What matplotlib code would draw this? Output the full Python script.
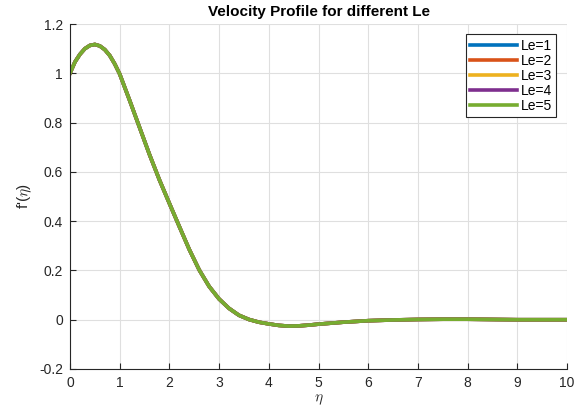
import matplotlib
matplotlib.use("Agg")
import matplotlib.pyplot as plt

eta = [0, 0.1, 0.2, 0.3, 0.4, 0.5, 0.6, 0.7, 0.8, 0.9, 1.0, 1.2, 1.4, 1.6, 1.8,
       2.0, 2.2, 2.4, 2.6, 2.8, 3.0, 3.2, 3.4, 3.6, 3.8, 4.0, 4.2, 4.4, 4.6, 4.8,
       5.0, 5.5, 6.0, 6.5, 7.0, 7.5, 8.0, 8.5, 9.0, 9.5, 10.0]
fp = [1.0, 1.046, 1.077, 1.100, 1.113, 1.117, 1.111, 1.096, 1.072, 1.038, 0.997,
      0.890, 0.780, 0.670, 0.567, 0.472, 0.378, 0.285, 0.202, 0.135, 0.084, 0.046,
      0.018, 0.001, -0.010, -0.017, -0.023, -0.026, -0.025, -0.022, -0.018,
      -0.010, -0.004, -0.001, 0.001, 0.002, 0.002, 0.001, 0.0, 0.0, 0.0]
le_values = [1, 2, 3, 4, 5]
colors = ["#0072BD", "#D95319", "#EDB120", "#7E2F8E", "#77AC30"]
xticks = list(range(0, 11))
yticks = [-0.2, 0, 0.2, 0.4, 0.6, 0.8, 1.0, 1.2]
ytick_labels = ["-0.2", "0", "0.2", "0.4", "0.6", "0.8", "1", "1.2"]

plt.rcParams['font.family'] = ['Liberation Sans', 'DejaVu Sans']
plt.rcParams['mathtext.fontset'] = 'cm'

fig = plt.figure(figsize=(5.84, 4.13), dpi=100)
ax = fig.add_axes([70/584, 44/413, 497/584, 345/413])

for le, c in zip(le_values, colors):
    ax.plot(eta, fp, color=c, lw=2.6, label=f"Le={le}")

ax.set_xlim(0, 10)
ax.set_ylim(-0.2, 1.2)
ax.set_xticks(xticks)
ax.set_yticks(yticks)
ax.set_yticklabels(ytick_labels)
ax.grid(True, color="#dfdfdf", lw=0.8)
ax.set_axisbelow(True)
for s in ["top", "right"]:
    ax.spines[s].set_visible(False)
for s in ["left", "bottom"]:
    ax.spines[s].set_color("#262626")
    ax.spines[s].set_linewidth(0.8)
ax.tick_params(direction="in", length=4, colors="#262626", labelsize=10, pad=5)

ax.set_title("Velocity Profile for different Le", fontsize=11, fontweight="bold", pad=6)
ax.set_xlabel(r"$\eta$", fontsize=11, color="#262626", labelpad=2)
ax.set_ylabel(r"f'($\eta$)", fontsize=11, color="#262626", labelpad=4)

leg = ax.legend(loc="upper right", bbox_to_anchor=(0.978, 0.97), fontsize=10,
                fancybox=False, edgecolor="#262626", framealpha=1,
                handlelength=3.4, handletextpad=0.25, labelspacing=0.08,
                borderpad=0.3, borderaxespad=0)
leg.get_frame().set_linewidth(0.8)

fig.savefig("out.png", dpi=100)
